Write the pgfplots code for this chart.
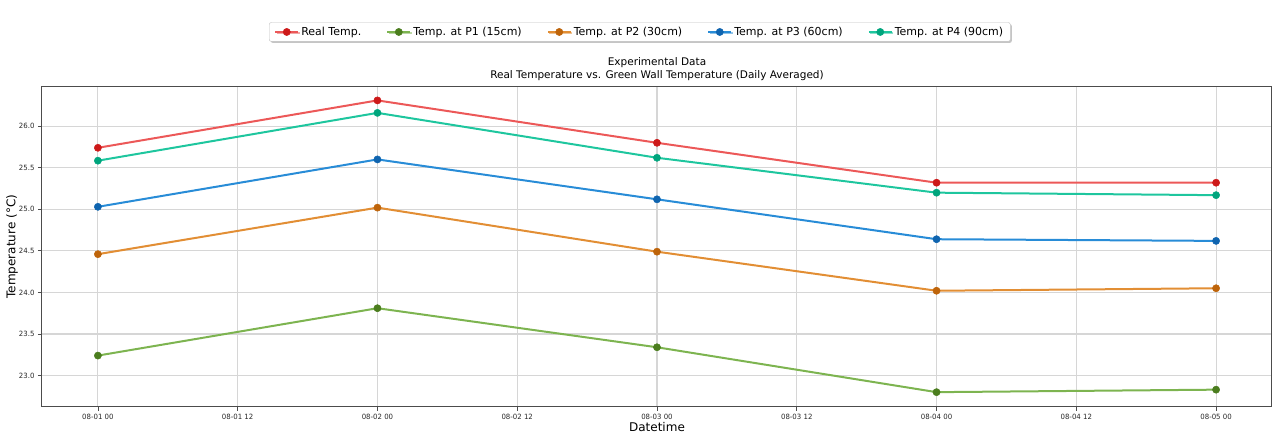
\documentclass[border=0pt]{standalone}
\usepackage{fontspec}
\setmainfont{DejaVu Sans}
\newfontfamily\tickfont[FakeStretch=0.97]{DejaVu Sans}
\usepackage{pgfplots}
\pgfplotsset{compat=1.18}
\usetikzlibrary{shadows}
\definecolor{redD}{RGB}{205,25,25}
\definecolor{redL}{RGB}{236,88,88}
\definecolor{tealD}{RGB}{0,165,125}
\definecolor{tealL}{RGB}{30,198,158}
\definecolor{blueD}{RGB}{15,100,175}
\definecolor{blueL}{RGB}{40,140,215}
\definecolor{orangeD}{RGB}{190,100,10}
\definecolor{orangeL}{RGB}{226,142,52}
\definecolor{greenD}{RGB}{75,125,30}
\definecolor{greenL}{RGB}{125,180,80}
\definecolor{gridc}{RGB}{214,214,214}
\begin{document}
\begin{tikzpicture}
\path[use as bounding box] (0,0) rectangle (1274pt,440pt);
\begin{axis}[
  at={(42pt,33.3pt)}, anchor=south west,
  scale only axis, width=1230pt, height=320pt,
  xmin=-0.2, xmax=4.2, ymin=22.625, ymax=26.475,
  xtick={0,0.5,1,1.5,2,2.5,3,3.5,4},
  xticklabels={08-01 00,08-01 12,08-02 00,08-02 12,08-03 00,08-03 12,08-04 00,08-04 12,08-05 00},
  ytick={23,23.5,24,24.5,25,25.5,26},
  yticklabel={\pgfmathprintnumber[fixed,fixed zerofill,precision=1,assume math mode=true]{\tick}},
  ticklabel style={font=\tickfont\fontsize{7.2}{8}\selectfont, text=black!85},
  xtick pos=lower, ytick pos=left,
  tick align=outside,
  major tick length=4pt,
  tick style={draw=black!70, line width=0.8pt},
  grid=major,
  major grid style={draw=gridc, line width=1.1pt},
  axis line style={draw=black!70, line width=1pt},
  xlabel={Datetime},
  ylabel={Temperature (°C)},
  label style={font=\fontsize{12}{14}\selectfont},
  xlabel style={at={(axis description cs:0.5,0)}, anchor=center, yshift=-20.5pt},
  ylabel style={at={(axis description cs:-0.02439,0.5)}, anchor=center},
  title={Experimental Data\\Real Temperature vs. Green Wall Temperature (Daily Averaged)},
  title style={align=center, font=\fontsize{10.5}{13}\selectfont, yshift=-4pt},
  legend columns=5,
  legend style={at={(0.486,1.171)}, anchor=center, draw=black!25, rounded corners=2pt,
    drop shadow={shadow xshift=1.5pt, shadow yshift=-1.5pt, fill=black!45},
    fill=white, font=\fontsize{11}{13}\selectfont, inner xsep=5pt, inner ysep=2.5pt,
    /tikz/every even column/.append style={column sep=23pt}},
  legend image code/.code={
    \draw[mark repeat=2,mark phase=2,#1] plot coordinates {(0pt,0pt) (11.5pt,0pt) (23pt,0pt)};
  },
  every axis plot/.append style={line width=2pt, mark=*, mark size=3.6pt},
]
\addplot[color=redL, mark options={fill=redD, draw=redD, line width=0.5pt}] coordinates {
(0,25.74) (1,26.31) (2,25.80) (3,25.32) (4,25.32)};
\addlegendentry{Real Temp.}
\addplot[color=greenL, mark options={fill=greenD, draw=greenD, line width=0.5pt}] coordinates {
(0,23.24) (1,23.81) (2,23.34) (3,22.80) (4,22.83)};
\addlegendentry{Temp. at P1 (15cm)}
\addplot[color=orangeL, mark options={fill=orangeD, draw=orangeD, line width=0.5pt}] coordinates {
(0,24.46) (1,25.02) (2,24.49) (3,24.02) (4,24.05)};
\addlegendentry{Temp. at P2 (30cm)}
\addplot[color=blueL, mark options={fill=blueD, draw=blueD, line width=0.5pt}] coordinates {
(0,25.03) (1,25.60) (2,25.12) (3,24.64) (4,24.62)};
\addlegendentry{Temp. at P3 (60cm)}
\addplot[color=tealL, mark options={fill=tealD, draw=tealD, line width=0.5pt}] coordinates {
(0,25.585) (1,26.16) (2,25.62) (3,25.20) (4,25.17)};
\addlegendentry{Temp. at P4 (90cm)}
\end{axis}
\end{tikzpicture}
\end{document}
